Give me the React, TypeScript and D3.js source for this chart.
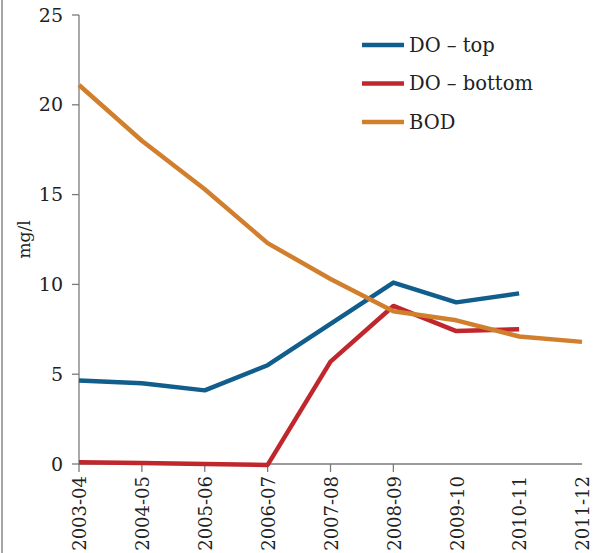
import React from "react";
import * as d3 from "d3";

const categories = ["2003-04","2004-05","2005-06","2006-07","2007-08","2008-09","2009-10","2010-11","2011-12"];
const doTop = [4.65, 4.5, 4.1, 5.5, 7.8, 10.1, 9.0, 9.5];
const doBottom = [0.1, 0.05, 0.0, -0.05, 5.7, 8.8, 7.4, 7.5];
const bod = [21.1, 18.0, 15.3, 12.3, 10.3, 8.5, 8.0, 7.1, 6.8];
const yTicks = [0, 5, 10, 15, 20, 25];
const tickedCategories = ["2003-04","2004-05","2005-06","2006-07","2007-08","2008-09"];

const seriesNames = ["DO \u2013 top", "DO \u2013 bottom", "BOD"];
const colors = ["#115e8c", "#c0272d", "#d27f2d"];

export default function App() {
  const W = 608, H = 553;
  const x = d3.scalePoint<string>().domain(categories).range([79, 582]);
  const y = d3.scaleLinear().domain([0, 25]).range([464, 15]);
  const line = d3.line<number>().x((_, i) => x(categories[i])!).y(d => y(d));
  const series = [doTop, doBottom, bod];
  const font = "DejaVu Serif";
  const axisColor = "#7a7a7a";
  return (
    <svg width={W} height={H} style={{ position: "absolute", left: 0, top: 0, background: "#fff", fontFamily: font }}>
      <line x1={2} x2={2} y1={0} y2={H} stroke="#888" strokeWidth={1.5} />
      {/* y axis */}
      <line x1={79} x2={79} y1={y(25)} y2={y(0)} stroke={axisColor} strokeWidth={1.3} />
      {yTicks.map(t => (
        <g key={t}>
          <line x1={72} x2={79} y1={y(t)} y2={y(t)} stroke={axisColor} strokeWidth={1.3} />
          <text x={63} y={y(t)} dy="0.35em" textAnchor="end" fontSize={19} fill="#222">{t}</text>
        </g>
      ))}
      <text transform={`translate(30,${y(12.5)}) rotate(-90)`} textAnchor="middle" fontSize={17} fill="#222">mg/l</text>
      {/* x axis */}
      <line x1={79} x2={582} y1={y(0)} y2={y(0)} stroke={axisColor} strokeWidth={1.3} />
      {tickedCategories.map(c => (
        <line key={c} x1={x(c)} x2={x(c)} y1={y(0)} y2={y(0) + 8} stroke={axisColor} strokeWidth={1.3} />
      ))}
      {categories.map(c => (
        <text key={c} transform={`translate(${x(c)! + 1},476) rotate(-90)`} textAnchor="end" dy="0.35em" fontSize={18} fill="#222">{c}</text>
      ))}
      {/* lines */}
      {series.map((s, i) => (
        <path key={i} d={line(s)!} fill="none" stroke={colors[i]} strokeWidth={4.5} strokeLinejoin="round" />
      ))}
      {/* legend */}
      {seriesNames.map((n, i) => (
        <g key={n} transform={`translate(362,${45 + i * 38.5})`}>
          <line x1={0} x2={42} y1={0} y2={0} stroke={colors[i]} strokeWidth={4.5} />
          <text x={47} y={0} dy="0.35em" fontSize={19.5} fill="#222">{n}</text>
        </g>
      ))}
    </svg>
  );
}
